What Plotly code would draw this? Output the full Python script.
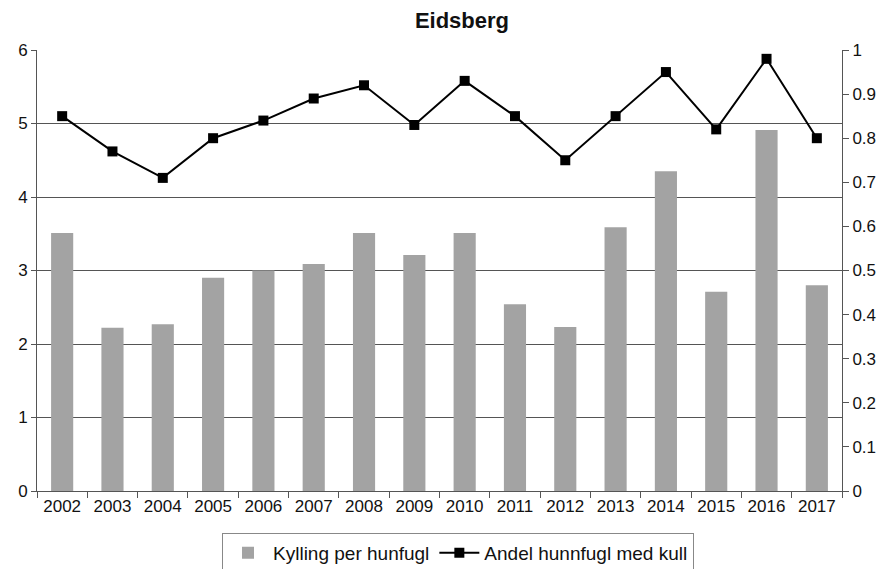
import plotly.graph_objects as go

years = [str(y) for y in range(2002, 2018)]
kylling = [3.51, 2.22, 2.27, 2.90, 3.00, 3.09, 3.51, 3.21, 3.51, 2.54, 2.23, 3.59, 4.35, 2.71, 4.91, 2.80]
andel = [0.85, 0.77, 0.71, 0.80, 0.84, 0.89, 0.92, 0.83, 0.93, 0.85, 0.75, 0.85, 0.95, 0.82, 0.98, 0.80]
left_ticks = [0, 1, 2, 3, 4, 5, 6]
right_ticks = [0, 0.1, 0.2, 0.3, 0.4, 0.5, 0.6, 0.7, 0.8, 0.9, 1]

font = dict(family="Liberation Sans, Arial", size=17, color="#111")

fig = go.Figure()
fig.add_trace(go.Bar(x=years, y=kylling, name="Kylling per hunfugl",
                     marker=dict(color="#a3a3a3", line=dict(width=0)), yaxis="y"))
fig.add_trace(go.Scatter(x=years, y=andel, name="Andel hunnfugl med kull", yaxis="y2",
                         mode="lines+markers",
                         line=dict(color="black", width=2),
                         marker=dict(symbol="square", size=10, color="black")))

fig.update_layout(
    width=885, height=569,
    margin=dict(l=37, r=43, t=50, b=78, autoexpand=False),
    plot_bgcolor="white", paper_bgcolor="white",
    font=font,
    title=dict(text="<b>Eidsberg</b>", x=0.522, xanchor="center", y=0.965, yanchor="middle",
               font=dict(family="Liberation Sans, Arial", size=22, color="#111")),
    bargap=0.56,
    showlegend=True,
    legend=dict(orientation="h", x=0.523, xanchor="center", y=-0.095, yanchor="top",
                bordercolor="#888", borderwidth=1, font=dict(size=19),
                itemwidth=40, traceorder="normal"),
    xaxis=dict(type="category", range=[-0.5, 15.5], automargin=False,
               showline=True, linecolor="#555", linewidth=1,
               ticks="outside", tickson="boundaries", ticklen=6, tickcolor="#555",
               showgrid=False, tickfont=dict(size=17)),
    yaxis=dict(range=[0, 6], tickvals=left_ticks, automargin=False, showline=True, linecolor="#555",
               ticks="outside", ticklen=5, tickcolor="#555",
               showgrid=True, gridcolor="#555", gridwidth=1, zeroline=False,
               tickfont=dict(size=17)),
    yaxis2=dict(range=[0, 1], tickvals=right_ticks, overlaying="y", side="right", automargin=False,
                showline=True, linecolor="#555", ticks="outside", ticklen=6, tickcolor="#555",
                showgrid=False, zeroline=False, tickfont=dict(size=17)),
)

fig.write_html("out.html")
